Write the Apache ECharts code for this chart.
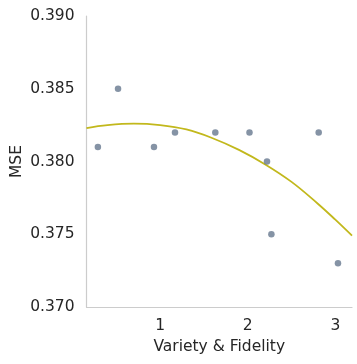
<!DOCTYPE html>
<html><head><meta charset="utf-8">
<script src="https://cdn.jsdelivr.net/npm/echarts@6/dist/echarts.min.js"></script>
<style>html,body{margin:0;padding:0;background:#fff}#c{width:357px;height:364px}</style>
</head><body><div id="c"></div>
<script>
// scatter points: x (Variety & Fidelity), y (MSE)
const pointX = [0.29, 0.52, 0.93, 1.17, 1.63, 2.02, 2.22, 2.27, 2.81, 3.03];
const pointY = [0.381, 0.385, 0.381, 0.382, 0.382, 0.382, 0.380, 0.375, 0.382, 0.373];
// fitted curve
const curveX = [0.16, 0.4, 0.7, 1.0, 1.3, 1.6, 1.9, 2.2, 2.5, 2.8, 3.0, 3.19];
const curveY = [0.3823, 0.3825, 0.3826, 0.3825, 0.3822, 0.3816, 0.3808, 0.3798, 0.3786, 0.3771, 0.3760, 0.3749];
const xTicks = [1, 2, 3];
const yTicks = [0.370, 0.375, 0.380, 0.385, 0.390];

const font = 'DejaVu Sans';
const chart = echarts.init(document.getElementById('c'), null, {renderer: 'canvas'});
chart.setOption({
  animation: false,
  grid: {left: 86.5, right: 5, top: 16, bottom: 57, outerBoundsMode: 'none', containLabel: false},
  xAxis: {
    type: 'value', min: 0.16, max: 3.19,
    name: 'Variety & Fidelity', nameLocation: 'middle', nameGap: 32, nameMoveOverlap: false,
    nameTextStyle: {fontFamily: font, fontSize: 15.5, color: '#262626'},
    axisLine: {show: true, lineStyle: {color: '#cccccc', width: 1.2}},
    axisTick: {show: false},
    splitLine: {show: false},
    axisLabel: {customValues: xTicks, fontFamily: font, fontSize: 15.5, color: '#262626', margin: 11}
  },
  yAxis: {
    type: 'value', min: yTicks[0], max: yTicks[yTicks.length - 1], interval: 0.005,
    name: 'MSE', nameLocation: 'middle', nameGap: 62, nameMoveOverlap: false,
    nameTextStyle: {fontFamily: font, fontSize: 15.5, color: '#262626'},
    axisLine: {show: true, lineStyle: {color: '#cccccc', width: 1.2}},
    axisTick: {show: false},
    splitLine: {show: false},
    axisLabel: {fontFamily: font, fontSize: 15.5, color: '#262626', margin: 12,
      formatter: v => v.toFixed(3)}
  },
  series: [
    {
      type: 'line', data: curveX.map((x, i) => [x, curveY[i]]),
      smooth: 0.4, showSymbol: false, z: 2,
      lineStyle: {color: '#c2b81c', width: 1.8}
    },
    {
      type: 'scatter', data: pointX.map((x, i) => [x, pointY[i]]),
      symbolSize: 6.5, z: 3,
      itemStyle: {color: '#66788f'}
    }
  ]
});
</script></body></html>
